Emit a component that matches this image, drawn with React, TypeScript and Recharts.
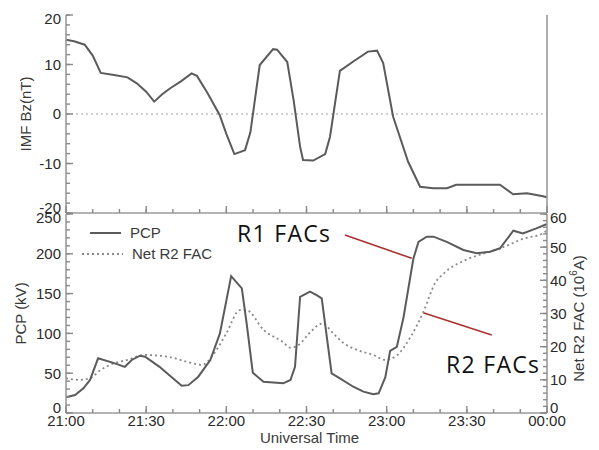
import { LineChart, Line, XAxis, YAxis, ReferenceLine, Legend } from "recharts";

const FONT = '"Liberation Sans", Arial, Helvetica, sans-serif';
const AXIS = "#9a9a9a";
const TICK = "#8a8a8a";
const INK = "#2a2a2a";
const SOLID = "#5b5b5b";
const DOTTED = "#8a8a8a";

// minutes after 21:00 UT
const bzTime = [0, 3, 7, 10, 13, 18, 23, 26.5, 30, 33, 36, 39, 43, 47, 49, 53, 57.5, 60, 63, 67, 69, 72.5, 77.5, 79, 82.8, 85.2, 87.6, 88.7, 92.5, 97, 98.8, 102.5, 107.5, 113, 116.4, 118.7, 122.4, 128, 132.5, 137.4, 142.6, 146, 162.4, 167.3, 172.5, 178.5, 180];
const bzValue = [15, 14.7, 14, 11.8, 8.3, 7.9, 7.4, 6.2, 4.5, 2.5, 4, 5.2, 6.6, 8.2, 7.7, 4.2, -0.2, -4, -8.1, -7.3, -3.7, 9.9, 13.1, 13, 10.5, 2.7, -6.6, -9.3, -9.4, -8.1, -4.6, 8.7, 10.6, 12.6, 12.8, 10.3, -0.5, -9.6, -14.7, -15, -15, -14.3, -14.3, -16.2, -16, -16.6, -16.8];

const pcpTime = [0, 3.4, 6.5, 9, 12, 18.3, 22, 24.6, 27.7, 29.6, 35, 40, 43.3, 45.8, 49.5, 54, 57.6, 61.8, 65.8, 67.6, 69.9, 73.9, 81.3, 84, 85.7, 87.6, 91.3, 93.8, 95.7, 99.4, 102.5, 107.5, 111.3, 115, 117, 119.5, 121.3, 123.8, 126.3, 130, 131.9, 135, 137.5, 142.5, 148.7, 153.7, 158.7, 162.4, 167.4, 171, 176, 180];
const pcpValue = [19.7, 22.6, 31, 41.5, 68.7, 62.4, 58, 66.6, 72, 70.7, 58, 43.6, 34.3, 35, 45.6, 66.6, 100, 172, 156.6, 112.7, 50.6, 39.3, 37.3, 41.5, 58, 146, 152.4, 148, 144, 49.8, 43.6, 33, 26.8, 23.5, 24.7, 45, 78, 83, 120, 194, 215, 221.5, 221.5, 215, 204.8, 200.6, 202.6, 206.9, 229, 225.7, 232, 237.4];

const facTime = [0, 5, 9, 13, 18, 23, 29, 38, 45, 51, 55, 60, 65, 67.5, 74, 81, 84, 87, 91, 96, 100, 104, 109, 115, 119.5, 124, 129, 134, 138, 142, 150, 156, 163, 171, 178.5, 180];
const facValue = [10.5, 10, 10.5, 13, 15, 16, 17.5, 17, 15.5, 14.5, 17.5, 24, 31, 31, 25, 21.5, 19.7, 20.5, 24, 27, 24, 21, 19, 17.5, 16, 17.5, 23, 31, 39, 42.5, 46.3, 48, 49.8, 52.5, 54.2, 55];

const timeTicks = [0, 10, 20, 30, 40, 50, 60, 70, 80, 90, 100, 110, 120, 130, 140, 150, 160, 170, 180];
const timeLabels: Record<number, string> = {
  0: "21:00", 30: "21:30", 60: "22:00", 90: "22:30", 120: "23:00", 150: "23:30", 180: "00:00",
};
const bzTicks = [-20, -18, -16, -14, -12, -10, -8, -6, -4, -2, 0, 2, 4, 6, 8, 10, 12, 14, 16, 18, 20];
const pcpTicks = [0, 10, 20, 30, 40, 50, 60, 70, 80, 90, 100, 110, 120, 130, 140, 150, 160, 170, 180, 190, 200, 210, 220, 230, 240, 250];
const facTicks = [0, 2, 4, 6, 8, 10, 12, 14, 16, 18, 20, 22, 24, 26, 28, 30, 32, 34, 36, 38, 40, 42, 44, 46, 48, 50, 52, 54, 56, 58, 60];

const zip = (t: number[], v: number[]) => t.map((x, i) => ({ t: x, v: v[i] }));
const bzData = zip(bzTime, bzValue);
const pcpData = zip(pcpTime, pcpValue);
const facData = zip(facTime, facValue);

const textStyle = { fontFamily: FONT, fontSize: 15, fill: INK };

// Native tick lines pointing inward: negative size, and an equal margin puts x/y back on the axis.
const IN = 4;
const tickLine = { stroke: TICK, strokeWidth: 1.4 };

/** Labels only on the majors (which also get a longer mark); end labels nudged inside like IDL. */
function yTick(side: "left" | "right", major: number, labels: boolean, lo: number, hi: number) {
  return function renderTick(props: any) {
    const x = Number(props.x);
    const y = Number(props.y);
    const v = props.payload.value as number;
    const isMajor = Math.abs(v % major) < 1e-6;
    const nudge = v === hi ? 4 : v === lo ? -5 : 0;
    return (
      <g>
        {isMajor && (
          <rect x={side === "left" ? x : x - 7} y={y - 0.7} width={7} height={1.4} fill={TICK} stroke="none" />
        )}
        {labels && isMajor && (
          <text
            x={side === "left" ? x - 5 : x + 3}
            y={y + nudge}
            dy="0.36em"
            textAnchor={side === "left" ? "end" : "start"}
            style={textStyle}
          >
            {v}
          </text>
        )}
      </g>
    );
  };
}

function xTick(side: "top" | "bottom", labels: boolean) {
  return function renderTick(props: any) {
    const x = Number(props.x);
    const y = Number(props.y);
    const v = props.payload.value as number;
    const isMajor = v % 30 === 0;
    return (
      <g>
        {isMajor && (
          <rect x={x - 0.7} y={side === "bottom" ? y - 7 : y} width={1.4} height={7} fill={TICK} stroke="none" />
        )}
        {labels && isMajor && (
          <text x={x} y={y + 13} textAnchor="middle" style={textStyle}>
            {timeLabels[v]}
          </text>
        )}
      </g>
    );
  };
}

function yTitle(dx: number, dy: number, children: React.ReactNode) {
  return function renderTitle(props: any) {
    const { viewBox } = props;
    const cx = viewBox.x + dx;
    const cy = viewBox.y + viewBox.height / 2 + dy;
    return (
      <text
        x={cx}
        y={cy}
        transform={`rotate(-90 ${cx} ${cy})`}
        textAnchor="middle"
        dominantBaseline="central"
        style={{ ...textStyle, fill: "#3a3a3a" }}
      >
        {children}
      </text>
    );
  };
}

function xTitle(props: any) {
  const { viewBox } = props;
  return (
    <text
      x={viewBox.x + viewBox.width / 2 + 3}
      y={viewBox.y + 30}
      textAnchor="middle"
      style={{ ...textStyle, fill: "#3a3a3a" }}
    >
      Universal Time
    </text>
  );
}

function renderLegend() {
  return (
    <svg width={160} height={44} style={{ overflow: "visible" }}>
      <line x1={8} x2={39} y1={11} y2={11} stroke={SOLID} strokeWidth={2} />
      <text x={48} y={11} dy="0.36em" style={{ ...textStyle, fill: "#3a3a3a" }}>PCP</text>
      <line x1={0} x2={41} y1={32} y2={32} stroke={DOTTED} strokeWidth={1.8} strokeDasharray="2 3" />
      <text x={50} y={32} dy="0.36em" style={{ ...textStyle, fill: "#3a3a3a" }}>Net R2 FAC</text>
    </svg>
  );
}

const axisLine = { stroke: AXIS, strokeWidth: 1.6 };
const inward = { tickLine, tickSize: -IN, tickMargin: IN, interval: 0 as const };

export default function App() {
  return (
    <div style={{ position: "absolute", left: 0, top: 0, width: 599, height: 450, background: "#fff" }}>
      <div style={{ position: "absolute", left: 0, top: 0 }}>
        <LineChart width={599} height={214} margin={{ top: 15, right: 0, bottom: 0, left: 0 }}>
          <XAxis
            dataKey="t"
            type="number"
            domain={[0, 180]}
            ticks={timeTicks}
            height={1}
            axisLine={axisLine}
            {...inward}
            tick={xTick("bottom", false)}
          />
          <XAxis
            xAxisId="top"
            orientation="top"
            dataKey="t"
            type="number"
            domain={[0, 180]}
            ticks={timeTicks}
            height={0}
            axisLine={axisLine}
            {...inward}
            tick={xTick("top", false)}
          />
          <YAxis
            domain={[-20, 20]}
            ticks={bzTicks}
            width={66}
            axisLine={axisLine}
            {...inward}
            tick={yTick("left", 10, true, -20, 20)}
            label={yTitle(25, 0, "IMF Bz(nT)")}
          />
          <YAxis
            yAxisId="r"
            orientation="right"
            domain={[-20, 20]}
            ticks={bzTicks}
            width={52}
            axisLine={axisLine}
            {...inward}
            tick={yTick("right", 10, false, -20, 20)}
          />
          <ReferenceLine y={0} stroke="#a0a0a0" strokeWidth={1.2} strokeDasharray="2 3" />
          <Line
            data={bzData}
            dataKey="v"
            type="linear"
            stroke={SOLID}
            strokeWidth={2}
            dot={false}
            isAnimationActive={false}
          />
        </LineChart>
      </div>

      <div style={{ position: "absolute", left: 0, top: 200 }}>
        <LineChart width={599} height={250} margin={{ top: 14, right: 0, bottom: 0, left: 0 }}>
          <XAxis
            dataKey="t"
            type="number"
            domain={[0, 180]}
            ticks={timeTicks}
            height={37}
            axisLine={axisLine}
            {...inward}
            tick={xTick("bottom", true)}
            label={xTitle}
          />
          <XAxis
            xAxisId="top"
            orientation="top"
            dataKey="t"
            type="number"
            domain={[0, 180]}
            ticks={timeTicks}
            height={0}
            axisLine={axisLine}
            {...inward}
            tick={xTick("top", false)}
          />
          <YAxis
            yAxisId="pcp"
            domain={[0, 250]}
            ticks={pcpTicks}
            width={66}
            axisLine={axisLine}
            {...inward}
            tick={yTick("left", 50, true, 0, 250)}
            label={yTitle(20, 0, "PCP (kV)")}
          />
          <YAxis
            yAxisId="fac"
            orientation="right"
            domain={[0, 60]}
            ticks={facTicks}
            width={52}
            axisLine={axisLine}
            {...inward}
            tick={yTick("right", 10, true, 0, 60)}
            label={yTitle(31, 5, (
              <>
                Net R2 FAC (10
                <tspan dy={-5} fontSize={10}>6</tspan>
                <tspan dy={5}>A)</tspan>
              </>
            ))}
          />
          <Legend
            layout="vertical"
            align="center"
            verticalAlign="middle"
            content={renderLegend}
            wrapperStyle={{ left: 82, top: 22, width: 160, height: 44 }}
          />
          <ReferenceLine
            yAxisId="pcp"
            segment={[{ x: 104.4, y: 223.6 }, { x: 129.4, y: 194.3 }]}
            stroke="#a8322f"
            strokeWidth={1.6}
            ifOverflow="visible"
          />
          <ReferenceLine
            yAxisId="pcp"
            segment={[{ x: 133.7, y: 126 }, { x: 159.3, y: 98 }]}
            stroke="#a8322f"
            strokeWidth={1.6}
            ifOverflow="visible"
          />
          <Line
            yAxisId="fac"
            data={facData}
            dataKey="v"
            type="monotone"
            stroke={DOTTED}
            strokeWidth={1.8}
            strokeDasharray="2 3"
            dot={false}
            isAnimationActive={false}
          />
          <Line
            yAxisId="pcp"
            data={pcpData}
            dataKey="v"
            type="linear"
            stroke={SOLID}
            strokeWidth={2}
            dot={false}
            isAnimationActive={false}
          />
        </LineChart>
      </div>

      <svg
        width={599}
        height={450}
        style={{ position: "absolute", left: 0, top: 0, pointerEvents: "none" }}
      >
        <text x={237} y={241.5} style={{ fontFamily: '"Open Sans", sans-serif', fontSize: 23, letterSpacing: 1.3, fill: "#111" }}>
          R1 FACs
        </text>
        <text x={446} y={373} style={{ fontFamily: '"Open Sans", sans-serif', fontSize: 23, letterSpacing: 1.3, fill: "#111" }}>
          R2 FACs
        </text>
      </svg>
    </div>
  );
}
